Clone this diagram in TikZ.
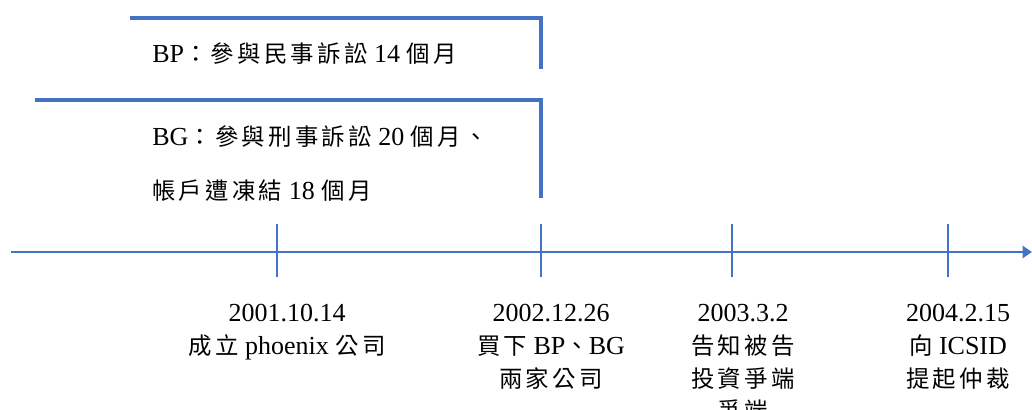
\documentclass[tikz,border=0pt]{standalone}
\usepackage{fontspec}
\setmainfont{Liberation Serif}
\newfontfamily\cjkfont[Scale=0.9,LetterSpace=14]{Noto Sans CJK TC}
\newcommand\zh[1]{{\cjkfont #1}}
\usetikzlibrary{arrows.meta}
\definecolor{tlblue}{HTML}{4472C4}
\begin{document}
\begin{tikzpicture}[x=0.75pt,y=-0.75pt,
  bracket/.style={draw=tlblue,line width=2.4pt},
  axis/.style={draw=tlblue,line width=2pt,-{Triangle[length=7pt,width=9pt]}},
  tick/.style={draw=tlblue,line width=1pt},
  txt/.style={inner sep=0pt,font=\fontsize{19.5pt}{24.6pt}\selectfont},
  lbl/.style={txt,align=center,anchor=north}]
\useasboundingbox (0,0) rectangle (1032,410);
% brackets
\coordinate (b1s) at (130,18);
\coordinate (b1c) at (541,18);
\coordinate (b1e) at (541,69);
\coordinate (b2s) at (35,100);
\coordinate (b2c) at (541,100);
\coordinate (b2e) at (541,198);
\draw[bracket] (b1s) -- (b1c) -- (b1e);
\draw[bracket] (b2s) -- (b2c) -- (b2e);
% texts
\node[txt,anchor=base west] (bp) at (152,63) {BP\zh{：參與民事訴訟} 14 \zh{個月}};
\node[txt,anchor=base west] (bg) at (152,145) {BG\zh{：參與刑事訴訟} 20 \zh{個月、}};
\node[txt,anchor=base west] (fz) at (152,199) {\zh{帳戶遭凍結} 18 \zh{個月}};
% axis
\coordinate (a0) at (11,252);
\coordinate (a1) at (1032,252);
\draw[axis] (a0) -- (a1);
\foreach \n/\x in {t1/277,t2/541,t3/732,t4/948}{
  \coordinate (\n top) at (\x,224);
  \coordinate (\n bot) at (\x,277);
  \draw[tick] (\n top) -- (\n bot);
}
\node[lbl] (l1) at (287,304) {2001.10.14\\\zh{成立} phoenix \zh{公司}};
\node[lbl] (l2) at (551,304) {2002.12.26\\\zh{買下} BP\zh{、}BG\\\zh{兩家公司}};
\node[lbl] (l3) at (743,304) {2003.3.2\\\zh{告知被告}\\\zh{投資爭端}\\\zh{爭端}};
\node[lbl] (l4) at (958,304) {2004.2.15\\\zh{向} ICSID\\\zh{提起仲裁}};
\end{tikzpicture}
\end{document}
